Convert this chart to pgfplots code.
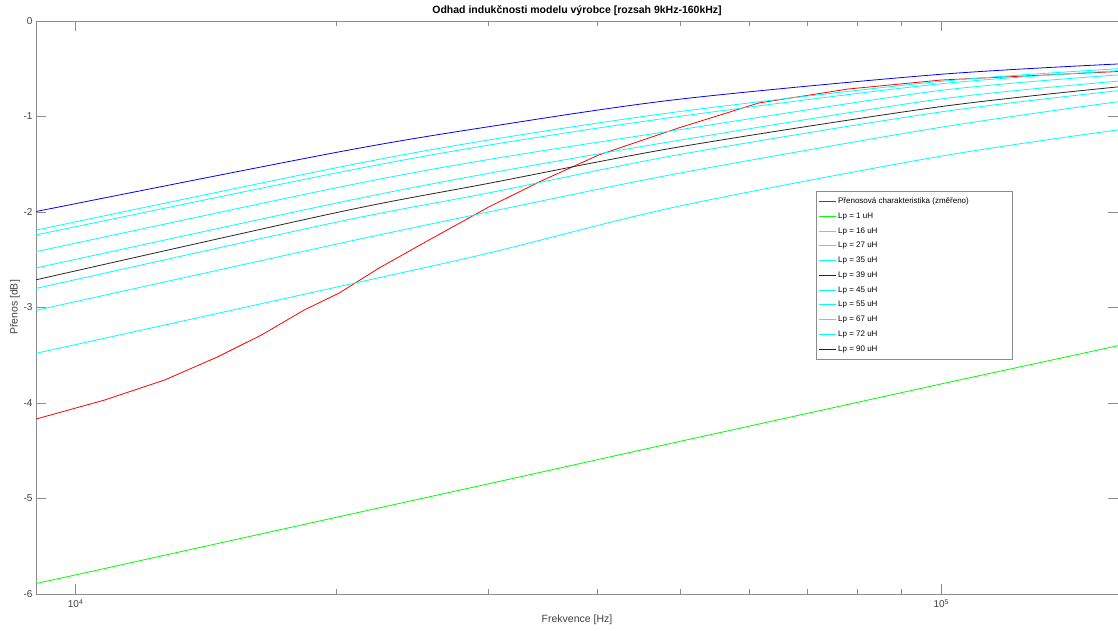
\documentclass[border=0pt]{standalone}
\usepackage{pgfplots}
\pgfplotsset{compat=1.18}
\usepackage{fontspec}
\setmainfont{Liberation Sans}
\definecolor{axgray}{gray}{0.55}
\definecolor{txtgray}{gray}{0.25}
\definecolor{mcyan}{rgb}{0,1,1}
\definecolor{mgreen}{rgb}{0,1,0}
\definecolor{mblue}{rgb}{0,0,1}
\definecolor{mred}{rgb}{1,0,0}
\begin{document}
\begin{tikzpicture}
\begin{axis}[
 scale only axis, width=1082pt, height=573pt,
 xmode=log, xmin=9000, xmax=160000, ymin=-6, ymax=0,
 xtick={10000,100000}, xticklabels={10\textsuperscript{4},10\textsuperscript{5}},
 minor xtick={20000,30000,40000,50000,60000,70000,80000,90000},
 ytick={-6,-5,-4,-3,-2,-1,0}, yticklabels={-6,-5,-4,-3,-2,-1,0},
 major tick length=10pt, minor tick length=5pt,
 tick style={axgray, line width=0.6pt},
 axis line style={axgray, line width=0.6pt},
 ticklabel style={font=\fontsize{10}{12}\selectfont, text=txtgray},
 xticklabel style={yshift=-2pt},
 title={Odhad indukčnosti modelu výrobce [rozsah 9kHz-160kHz]},
 title style={font=\fontsize{10.5}{13}\selectfont\bfseries, anchor=base, yshift=1pt},
 xlabel={Frekvence [Hz]}, ylabel={Přenos [dB]},
 label style={font=\fontsize{10.5}{12}\selectfont, text=txtgray},
 ylabel style={yshift=-3pt},
 legend cell align=left,
 legend style={name=leg, at={(0.7209,0.7033)}, anchor=north west, draw=none, fill=white,
   font=\fontsize{8}{9}\selectfont, inner xsep=2pt, inner ysep=4.5pt, row sep=3.7pt,
   nodes={inner ysep=2pt}},
 every axis plot/.append style={line width=0.8pt},
]
\addplot[color=mred] coordinates {(9000,-4.168) (10800,-3.969) (12670,-3.759) (14580,-3.518) (16390,-3.288) (18370,-3.026) (20160,-2.848) (22420,-2.586) (25600,-2.293) (30000,-1.948) (34300,-1.686) (40200,-1.403) (49700,-1.120) (61500,-0.859) (78100,-0.712) (100000,-0.618) (160000,-0.529)};
\addlegendentry{\makebox[170pt][l]{Přenosová charakteristika (změřeno)}}
\addplot[color=mgreen] coordinates {(9000,-5.89) (10000,-5.80) (20000,-5.197) (30000,-4.846) (50000,-4.40) (100000,-3.80) (160000,-3.40)};
\addlegendentry{Lp = 1 uH}
\addplot[color=mcyan, smooth] coordinates {(9000,-3.48) (20160,-2.78) (30000,-2.43) (49700,-1.94) (99200,-1.42) (160000,-1.14)};
\addlegendentry{Lp = 16 uH}
\addplot[color=mcyan, smooth] coordinates {(9000,-3.03) (20160,-2.33) (30000,-2.00) (49700,-1.595) (99200,-1.117) (160000,-0.845)};
\addlegendentry{Lp = 27 uH}
\addplot[color=mcyan, smooth] coordinates {(9000,-2.80) (20160,-2.10) (30000,-1.80) (49700,-1.40) (99200,-0.956) (160000,-0.73)};
\addlegendentry{Lp = 35 uH}
\addplot[color=black!85, smooth] coordinates {(9000,-2.71) (20160,-2.00) (30000,-1.70) (49700,-1.32) (99200,-0.90) (160000,-0.69)};
\addlegendentry{Lp = 39 uH}
\addplot[color=mcyan, smooth] coordinates {(9000,-2.586) (20160,-1.90) (30000,-1.595) (49700,-1.25) (99200,-0.82) (160000,-0.63)};
\addlegendentry{Lp = 45 uH}
\addplot[color=mcyan, smooth] coordinates {(9000,-2.415) (20160,-1.74) (30000,-1.45) (49700,-1.14) (99200,-0.73) (160000,-0.565)};
\addlegendentry{Lp = 55 uH}
\addplot[color=mcyan, smooth] coordinates {(9000,-2.24) (20160,-1.585) (30000,-1.30) (49700,-1.00) (99200,-0.66) (160000,-0.52)};
\addlegendentry{Lp = 67 uH}
\addplot[color=mcyan, smooth] coordinates {(9000,-2.19) (20160,-1.53) (30000,-1.246) (49700,-0.95) (99200,-0.635) (160000,-0.50)};
\addlegendentry{Lp = 72 uH}
\addplot[color=mblue, smooth] coordinates {(9000,-1.995) (20160,-1.37) (30000,-1.107) (49700,-0.82) (99200,-0.56) (160000,-0.45)};
\addlegendentry{Lp = 90 uH}
\end{axis}
\draw[axgray, line width=0.6pt] (leg.south west) rectangle (leg.north east);
\pgfresetboundingbox
\path ([xshift=-36pt,yshift=-36pt]current axis.south west) rectangle ([yshift=21pt]current axis.north east);
\end{tikzpicture}
\end{document}
